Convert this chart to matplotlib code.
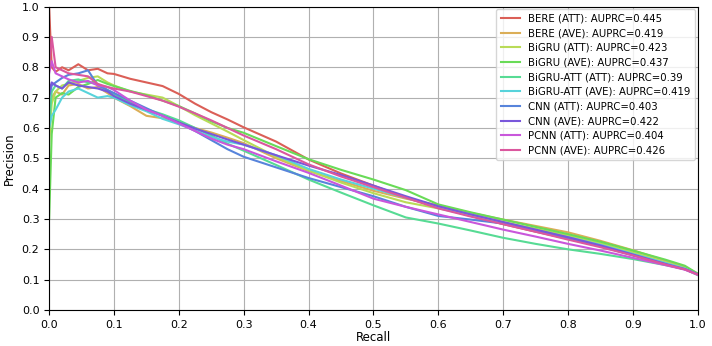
import matplotlib
matplotlib.use("Agg")
import matplotlib.pyplot as plt
import seaborn as sns

# recall grid shared by all curves
recall = [0.0, 0.004, 0.01, 0.02, 0.03, 0.045, 0.06, 0.075, 0.09, 0.1,
          0.125, 0.15, 0.175, 0.2, 0.225, 0.25, 0.275, 0.3, 0.35, 0.4,
          0.45, 0.5, 0.55, 0.6, 0.65, 0.7, 0.75, 0.8, 0.85, 0.9, 0.95, 0.98, 1.0]

bere_att = [1.0, 0.80, 0.785, 0.80, 0.79, 0.81, 0.79, 0.795, 0.78, 0.778,
            0.762, 0.75, 0.738, 0.712, 0.68, 0.652, 0.628, 0.602, 0.555, 0.496,
            0.45, 0.41, 0.37, 0.338, 0.31, 0.283, 0.258, 0.235, 0.21, 0.182, 0.152, 0.135, 0.118]
bere_ave = [0.62, 0.70, 0.72, 0.71, 0.74, 0.745, 0.73, 0.735, 0.715, 0.70,
            0.672, 0.64, 0.632, 0.62, 0.6, 0.585, 0.568, 0.55, 0.5, 0.458,
            0.425, 0.393, 0.367, 0.345, 0.32, 0.298, 0.277, 0.256, 0.228, 0.197, 0.163, 0.142, 0.12]
bigru_att = [0.55, 0.68, 0.72, 0.74, 0.745, 0.755, 0.765, 0.77, 0.75, 0.74,
             0.72, 0.71, 0.70, 0.672, 0.642, 0.615, 0.588, 0.56, 0.505, 0.46,
             0.42, 0.385, 0.355, 0.335, 0.312, 0.29, 0.268, 0.245, 0.22, 0.19, 0.158, 0.138, 0.118]
bigru_ave = [0.3, 0.58, 0.70, 0.715, 0.71, 0.735, 0.745, 0.758, 0.745, 0.738,
             0.722, 0.708, 0.69, 0.672, 0.648, 0.622, 0.6, 0.584, 0.54, 0.497,
             0.462, 0.43, 0.395, 0.348, 0.322, 0.298, 0.274, 0.25, 0.225, 0.196, 0.166, 0.146, 0.12]
bigruatt_att = [0.6, 0.72, 0.74, 0.73, 0.755, 0.76, 0.75, 0.745, 0.725, 0.712,
                0.685, 0.662, 0.645, 0.625, 0.6, 0.575, 0.548, 0.525, 0.478, 0.43,
                0.387, 0.345, 0.305, 0.285, 0.262, 0.238, 0.218, 0.2, 0.185, 0.168, 0.148, 0.135, 0.115]
bigruatt_ave = [0.6, 0.64, 0.66, 0.70, 0.72, 0.73, 0.715, 0.70, 0.705, 0.70,
                0.675, 0.655, 0.63, 0.612, 0.592, 0.57, 0.555, 0.545, 0.51, 0.465,
                0.43, 0.4, 0.37, 0.34, 0.315, 0.288, 0.263, 0.24, 0.215, 0.185, 0.155, 0.137, 0.117]
cnn_att = [0.7, 0.74, 0.75, 0.765, 0.775, 0.78, 0.79, 0.74, 0.725, 0.715,
           0.69, 0.665, 0.64, 0.617, 0.59, 0.56, 0.53, 0.505, 0.47, 0.435,
           0.405, 0.375, 0.34, 0.31, 0.298, 0.285, 0.26, 0.235, 0.21, 0.18, 0.15, 0.134, 0.117]
cnn_ave = [0.72, 0.75, 0.74, 0.73, 0.75, 0.74, 0.735, 0.73, 0.72, 0.705,
           0.68, 0.66, 0.64, 0.618, 0.598, 0.58, 0.562, 0.545, 0.51, 0.476,
           0.445, 0.41, 0.375, 0.342, 0.315, 0.29, 0.265, 0.24, 0.213, 0.183, 0.152, 0.135, 0.118]
pcnn_att = [0.78, 0.82, 0.78, 0.77, 0.76, 0.75, 0.755, 0.74, 0.735, 0.725,
            0.69, 0.66, 0.64, 0.615, 0.59, 0.565, 0.545, 0.53, 0.49, 0.452,
            0.41, 0.367, 0.34, 0.315, 0.29, 0.265, 0.242, 0.218, 0.196, 0.172, 0.148, 0.133, 0.116]
pcnn_ave = [0.8, 0.9, 0.80, 0.79, 0.78, 0.775, 0.77, 0.745, 0.735, 0.73,
            0.72, 0.705, 0.69, 0.67, 0.648, 0.625, 0.6, 0.575, 0.53, 0.48,
            0.44, 0.405, 0.37, 0.335, 0.308, 0.283, 0.258, 0.232, 0.207, 0.18, 0.15, 0.134, 0.117]

models = ["BERE (ATT)", "BERE (AVE)", "BiGRU (ATT)", "BiGRU (AVE)",
          "BiGRU-ATT (ATT)", "BiGRU-ATT (AVE)", "CNN (ATT)", "CNN (AVE)",
          "PCNN (ATT)", "PCNN (AVE)"]
auprc = ["0.445", "0.419", "0.423", "0.437", "0.39", "0.419",
         "0.403", "0.422", "0.404", "0.426"]
curves = [bere_att, bere_ave, bigru_att, bigru_ave, bigruatt_att,
          bigruatt_ave, cnn_att, cnn_ave, pcnn_att, pcnn_ave]

colors = sns.color_palette("hls", len(models))

fig, ax = plt.subplots(figsize=(7.12, 3.46), dpi=100)
fig.subplots_adjust(left=0.069, right=0.98, bottom=0.104, top=0.981)

for name, score, prec, c in zip(models, auprc, curves, colors):
    ax.plot(recall, prec, color=c, lw=1.5, label=f"{name}: AUPRC={score}")

ax.set_xlim(0, 1)
ax.set_ylim(0, 1)
ax.set_xticks([i / 10 for i in range(11)])
ax.set_yticks([i / 10 for i in range(11)])
ax.tick_params(labelsize=8)
ax.set_xlabel("Recall", fontsize=8.5, labelpad=1)
ax.set_ylabel("Precision", fontsize=8.5)
ax.grid(True, color="#b0b0b0", lw=0.8)
ax.legend(loc="upper right", fontsize=7.3, handlelength=1.9,
          labelspacing=0.46, borderpad=0.45, borderaxespad=0.25)

fig.savefig("out.png", dpi=100)
